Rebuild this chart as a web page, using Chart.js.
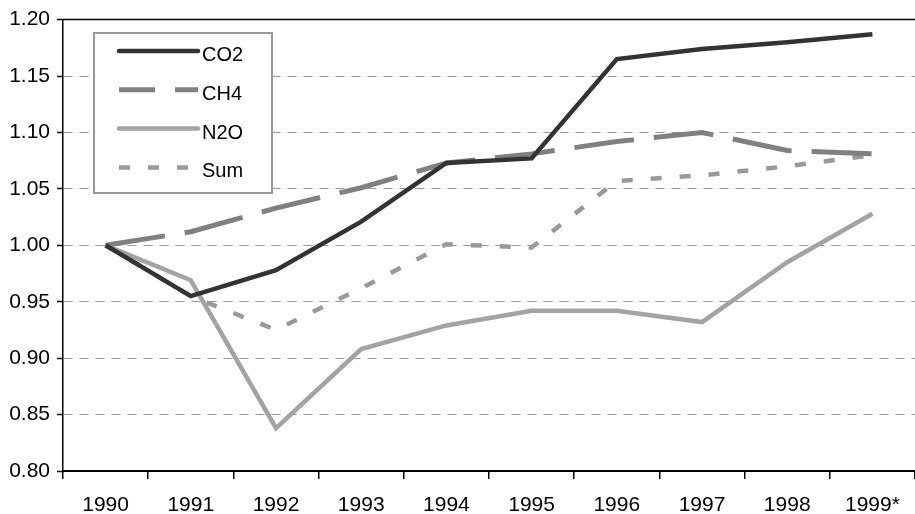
<!DOCTYPE html>
<html>
<head>
<meta charset="utf-8">
<script src="https://cdn.jsdelivr.net/npm/chart.js@4"></script>
<style>
  html, body { margin: 0; padding: 0; background: #fff; }
  #wrap { width: 915px; height: 514px; position: relative; }
</style>
</head>
<body>
<div id="wrap"><canvas id="chart" width="915" height="514"></canvas></div>
<script>
// data (index, 1990 = 1.00)
const years = ['1990', '1991', '1992', '1993', '1994', '1995', '1996', '1997', '1998', '1999*'];
const co2 = [1.000, 0.955, 0.978, 1.021, 1.073, 1.077, 1.165, 1.174, 1.180, 1.187];
const ch4 = [1.000, 1.012, 1.033, 1.051, 1.073, 1.081, 1.092, 1.100, 1.084, 1.081];
const n2o = [1.000, 0.969, 0.838, 0.908, 0.929, 0.942, 0.942, 0.932, 0.985, 1.028];
const sum = [1.000, 0.955, 0.925, 0.962, 1.001, 0.998, 1.057, 1.062, 1.070, 1.080];
const yTicks = [0.80, 0.85, 0.90, 0.95, 1.00, 1.05, 1.10, 1.15, 1.20];

const series = [
  { label: 'CO2', data: co2, color: '#333333', width: 4.5, dash: [], legendOffset: 0 },
  { label: 'CH4', data: ch4, color: '#808080', width: 5, dash: [60, 20], legendOffset: 24 },
  { label: 'N2O', data: n2o, color: '#a3a3a3', width: 4.5, dash: [], legendOffset: 0 },
  { label: 'Sum', data: sum, color: '#999999', width: 4.5, dash: [11, 18], legendOffset: 0 }
];

const fontFam = '"Liberation Sans", Arial, sans-serif';

// top frame line + legend box inside the plot
const extras = {
  id: 'extras',
  afterDraw(chart) {
    const ctx = chart.ctx;
    const a = chart.chartArea;
    ctx.save();
    ctx.strokeStyle = '#000';
    ctx.lineWidth = 1.5;
    ctx.beginPath();
    ctx.moveTo(a.left, a.top);
    ctx.lineTo(a.right, a.top);
    ctx.stroke();

    // legend
    ctx.fillStyle = '#fff';
    ctx.fillRect(94, 33, 178, 160);
    ctx.strokeStyle = '#999';
    ctx.lineWidth = 2;
    ctx.strokeRect(94, 33, 178, 160);
    ctx.font = '20px ' + fontFam;
    ctx.textBaseline = 'alphabetic';
    series.forEach((s, i) => {
      const y = 51 + i * 38.8;
      ctx.strokeStyle = s.color;
      ctx.lineWidth = s.width;
      ctx.lineCap = s.dash.length ? 'butt' : 'round';
      ctx.setLineDash(s.dash);
      ctx.lineDashOffset = s.legendOffset;
      ctx.beginPath();
      ctx.moveTo(119, y);
      ctx.lineTo(198, y);
      ctx.stroke();
      ctx.setLineDash([]);
      ctx.fillStyle = '#000';
      ctx.fillText(s.label, 202, y + 10);
    });
    ctx.restore();
  }
};

new Chart(document.getElementById('chart'), {
  type: 'line',
  data: {
    labels: years,
    datasets: series.map(s => ({
      label: s.label,
      data: s.data,
      borderColor: s.color,
      backgroundColor: s.color,
      borderWidth: s.width,
      borderDash: s.dash,
      pointRadius: 0,
      tension: 0,
      fill: false
    }))
  },
  options: {
    responsive: false,
    animation: false,
    devicePixelRatio: 1,
    layout: { padding: { top: 14, right: 0, left: 0, bottom: 0 } },
    plugins: { legend: { display: false }, tooltip: { enabled: false } },
    scales: {
      x: {
        offset: true,
        grid: { offset: true, drawOnChartArea: false, tickLength: 8, color: '#000', lineWidth: 1.5 },
        border: { color: '#000', width: 2 },
        ticks: { color: '#000', font: { family: fontFam, size: 21 }, padding: 14, maxRotation: 0 },
        afterFit(scale) { scale.height = 43; }
      },
      y: {
        min: 0.8,
        max: 1.2,
        afterBuildTicks(scale) { scale.ticks = yTicks.map(v => ({ value: v })); },
        grid: { color: '#999', lineWidth: 1, tickLength: 6, tickColor: '#000', tickWidth: 1.5, drawTicks: true },
        border: { color: '#000', width: 1.5, dash: [9, 7] },
        ticks: {
          color: '#000',
          font: { family: fontFam, size: 21 },
          padding: 7,
          callback: v => Number(v).toFixed(2)
        },
        afterFit(scale) { scale.width = 63; }
      }
    }
  },
  plugins: [extras]
});
</script>
</body>
</html>
